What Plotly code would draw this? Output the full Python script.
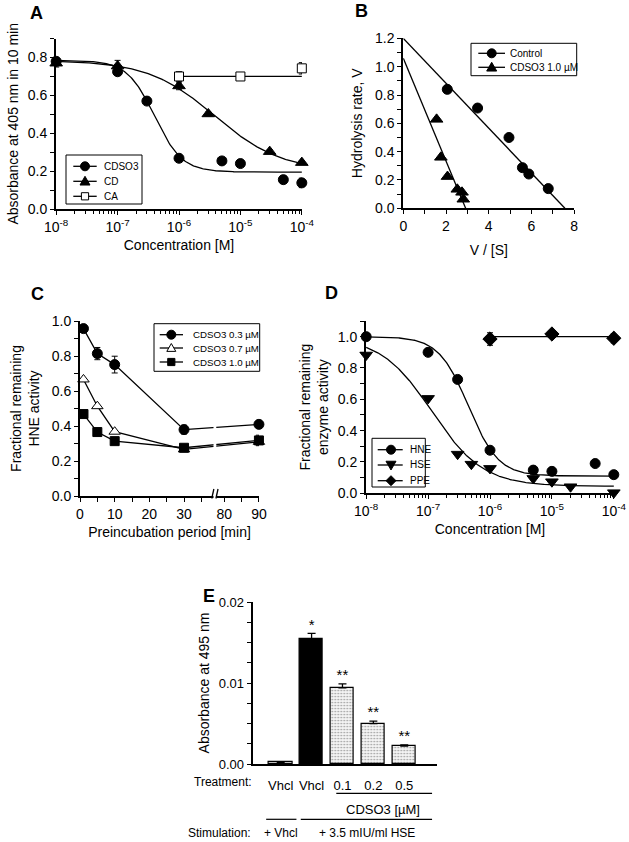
import numpy as np
import plotly.graph_objects as go

W, H = 629, 842
FONT = "Liberation Sans, Arial, Helvetica, sans-serif"

# ---------------- Panel A data ----------------
a_names = ["CDSO3", "CD", "CA"]
a_conc_cdso3 = [1e-8, 1e-7, 3e-7, 1e-6, 5e-6, 1e-5, 5e-5, 1e-4]
a_abs_cdso3 = [0.78, 0.725, 0.57, 0.268, 0.254, 0.24, 0.155, 0.138]
a_err_cdso3 = [0.02, 0.01, 0.01, 0.01, 0.0, 0.0, 0.02, 0.025]
a_conc_cd = [1e-8, 1e-7, 1e-6, 3e-6, 3e-5, 1e-4]
a_abs_cd = [0.77, 0.755, 0.65, 0.502, 0.303, 0.245]
a_err_cd = [0.02, 0.03, 0.02, 0.01, 0.01, 0.01]
a_conc_ca = [1e-6, 1e-5, 1e-4]
a_abs_ca = [0.70, 0.70, 0.743]
a_err_ca = [0.025, 0.01, 0.03]
a_fit_cdso3 = dict(top=0.785, bottom=0.195, ic50=4.0e-7, hill=1.94)
a_fit_cd = dict(top=0.785, bottom=0.20, ic50=3.8e-6, hill=0.8)
a_ca_mean = 0.70

# ---------------- Panel B data ----------------
b_names = ["Control", "CDSO3 1.0 \u00b5M"]
b_ctrl_x = [2.06, 3.48, 4.95, 5.58, 5.88, 6.79]
b_ctrl_y = [0.84, 0.708, 0.50, 0.287, 0.242, 0.139]
b_cd_x = [1.56, 1.76, 2.07, 2.53, 2.75, 2.81]
b_cd_y = [0.628, 0.36, 0.224, 0.134, 0.113, 0.064]
b_ctrl_fit = dict(vmax=1.2, xint=7.57)
b_cd_fit = dict(vmax=1.06, xint=2.92)

# ---------------- Panel C data ----------------
c_names = ["CDSO3 0.3 \u00b5M", "CDSO3 0.7 \u00b5M", "CDSO3 1.0 \u00b5M"]
c_time = [1, 5, 10, 30, 90]
c_03 = [0.958, 0.815, 0.752, 0.38, 0.41]
c_03_err = [0.0, 0.035, 0.048, 0.025, 0.01]
c_07 = [0.667, 0.514, 0.368, 0.267, 0.31]
c_10 = [0.469, 0.366, 0.314, 0.276, 0.318]
c_10_err = [0.0, 0.0, 0.0, 0.0, 0.03]
c_major_times = [0, 10, 20, 30, 80, 90]
c_minor_times = [5, 15, 25, 35, 85]
C_BREAK_FROM = 40        # times after the axis break are shifted left
C_BREAK_SHIFT = 38.4
C_GAP = (38.5, 39.3)     # axis-break gap (axis units)

# ---------------- Panel D data ----------------
d_names = ["HNE", "HSE", "PPE"]
d_conc_hne = [1e-8, 1e-7, 3e-7, 1e-6, 5e-6, 1e-5, 5e-5, 1e-4]
d_hne = [1.0, 0.90, 0.727, 0.275, 0.148, 0.14, 0.19, 0.119]
d_conc_hse = [1e-8, 1e-7, 3e-7, 5e-7, 1e-6, 5e-6, 1e-5, 2e-5, 1e-4]
d_hse = [0.883, 0.606, 0.25, 0.186, 0.159, 0.095, 0.074, 0.042, 0.004]
d_conc_ppe = [1e-6, 1e-5, 1e-4]
d_ppe = [0.985, 1.017, 0.99]
d_ppe_err = [0.04, 0.02, 0.03]
d_fit_hne = dict(top=1.0, bottom=0.11, ic50=4.5e-7, hill=1.8)
d_fit_hse = dict(top=1.0, bottom=0.045, ic50=1.15e-7, hill=1.05)
d_ppe_mean = 1.0

# ---------------- Panel E data ----------------
e_treatment = ["Vhcl", "Vhcl", "0.1", "0.2", "0.5"]
e_values = [0.0002, 0.01545, 0.0094, 0.0050, 0.0022]
e_err = [0.0, 0.0007, 0.0005, 0.0003, 0.00015]
e_signif = ["", "*", "**", "**", "**"]
e_fill = ["white", "black", "#f4f4f4", "#f4f4f4", "#f4f4f4"]
e_pattern = ["", "", ".", ".", "."]

log_ticks = [1e-8, 1e-7, 1e-6, 1e-5, 1e-4]
log_ticktext = ["10<sup>-8</sup>", "10<sup>-7</sup>", "10<sup>-6</sup>", "10<sup>-5</sup>", "10<sup>-4</sup>"]


def fx(p):
    return p / W


def fy(p):
    return 1 - p / H


def hill(x, fit):
    x = np.asarray(x, dtype=float)
    return fit["bottom"] + (fit["top"] - fit["bottom"]) / (1 + (x / fit["ic50"]) ** fit["hill"])


def c_pos(times):
    return [t if t <= C_BREAK_FROM else t - C_BREAK_SHIFT for t in times]


LINE = dict(color="black", width=1.3)
ERR = dict(type="data", color="black", thickness=1, width=3)


def mk(symbol, size, fill="black"):
    return dict(symbol=symbol, size=size, color=fill, line=dict(color="black", width=1))


fig = go.Figure()

# ================= Panel A =================
curve_x = np.logspace(-8, -4, 300)
for fit in (a_fit_cdso3, a_fit_cd):
    fig.add_trace(go.Scatter(x=curve_x, y=hill(curve_x, fit), mode="lines", line=LINE,
                             hoverinfo="skip", xaxis="x", yaxis="y"))
fig.add_trace(go.Scatter(x=[a_conc_ca[0], a_conc_ca[-1]], y=[a_ca_mean, a_ca_mean], mode="lines",
                         line=LINE, hoverinfo="skip", xaxis="x", yaxis="y"))
A_MARKERS = [("circle", 10, "black"), ("triangle-up", 11, "black"), ("square", 9, "white")]
for xs, ys, es, m, name in zip([a_conc_cdso3, a_conc_cd, a_conc_ca], [a_abs_cdso3, a_abs_cd, a_abs_ca],
                               [a_err_cdso3, a_err_cd, a_err_ca], A_MARKERS, a_names):
    fig.add_trace(go.Scatter(x=xs, y=ys, mode="markers", marker=mk(*m), error_y=dict(ERR, array=es),
                             name=name, cliponaxis=False, xaxis="x", yaxis="y"))

# ================= Panel B =================
B_MARKERS = [("circle", 10, "black"), ("triangle-up", 11, "black")]
for fit, xs, ys, m, name in zip([b_ctrl_fit, b_cd_fit], [b_ctrl_x, b_cd_x], [b_ctrl_y, b_cd_y],
                                B_MARKERS, b_names):
    fig.add_trace(go.Scatter(x=[0, fit["xint"]], y=[fit["vmax"], 0], mode="lines", line=LINE,
                             hoverinfo="skip", xaxis="x2", yaxis="y2", cliponaxis=False))
    fig.add_trace(go.Scatter(x=xs, y=ys, mode="markers", marker=mk(*m), name=name,
                             cliponaxis=False, xaxis="x2", yaxis="y2"))

# ================= Panel C =================
C_MARKERS = [("circle", 10, "black"), ("triangle-up", 10, "white"), ("square", 9, "black")]
for ys, es, m, name in zip([c_03, c_07, c_10], [c_03_err, None, c_10_err], C_MARKERS, c_names):
    fig.add_trace(go.Scatter(x=c_pos(c_time), y=ys, mode="lines+markers", marker=mk(*m), line=LINE, name=name,
                             error_y=(dict(ERR, array=es) if es else None), cliponaxis=False,
                             xaxis="x3", yaxis="y3"))

# ================= Panel D =================
for fit in (d_fit_hne, d_fit_hse):
    fig.add_trace(go.Scatter(x=curve_x, y=hill(curve_x, fit), mode="lines", line=LINE,
                             hoverinfo="skip", xaxis="x4", yaxis="y4"))
fig.add_trace(go.Scatter(x=[d_conc_ppe[0], d_conc_ppe[-1]], y=[d_ppe_mean, d_ppe_mean], mode="lines",
                         line=LINE, hoverinfo="skip", xaxis="x4", yaxis="y4"))
D_MARKERS = [("circle", 10, "black"), ("triangle-down", 11, "black"), ("diamond", 11, "black")]
for xs, ys, es, m, name in zip([d_conc_hne, d_conc_hse, d_conc_ppe], [d_hne, d_hse, d_ppe],
                               [None, None, d_ppe_err], D_MARKERS, d_names):
    fig.add_trace(go.Scatter(x=xs, y=ys, mode="markers", marker=mk(*m), name=name,
                             error_y=(dict(ERR, array=es) if es else None),
                             cliponaxis=False, xaxis="x4", yaxis="y4"))

# ================= Panel E =================
e_x = list(range(len(e_values)))
fig.add_trace(go.Bar(
    x=e_x, y=e_values, width=0.745, xaxis="x5", yaxis="y5",
    marker=dict(color=e_fill, line=dict(color="black", width=1.2),
                pattern=dict(shape=e_pattern, fgcolor="#a8a8a8", size=3, solidity=0.25, fillmode="overlay")),
    error_y=dict(type="data", symmetric=False, array=e_err, arrayminus=[0] * len(e_err),
                 color="black", thickness=1.3, width=4),
))
sig_idx = [i for i, s in enumerate(e_signif) if s]
fig.add_trace(go.Scatter(x=[e_x[i] for i in sig_idx], y=[e_values[i] + e_err[i] for i in sig_idx],
                         mode="text", text=[e_signif[i] for i in sig_idx],
                         textposition="top center", textfont=dict(family=FONT, size=15, color="black"),
                         cliponaxis=False, xaxis="x5", yaxis="y5"))
fig.update_traces(showlegend=False)


# ================= Axes =================
def axis(domain, rng, anchor, title=None, tickfont=14, standoff=6, **kw):
    tf = tickfont if isinstance(tickfont, dict) else dict(family=FONT, size=tickfont, color="black")
    d = dict(domain=domain, range=rng, anchor=anchor, showline=True, linecolor="black", linewidth=2,
             ticks="outside", ticklen=4, tickwidth=1, tickcolor="black", showgrid=False, zeroline=False,
             automargin=False, tickfont=tf, ticklabeloverflow="allow")
    if title is not None:
        d["title"] = dict(text=title, font=dict(family=FONT, size=14, color="black"), standoff=standoff)
    d.update(kw)
    return d


def MINOR(dt=None, vals=None):
    m = dict(ticks="outside", ticklen=4, tickwidth=1, tickcolor="black", showgrid=False)
    if vals is not None:
        m.update(tickmode="array", tickvals=vals)
    else:
        m.update(dtick=dt)
    return m


LOGMINOR = dict(ticks="outside", ticklen=3, tickwidth=1, tickcolor="black", dtick="D1", showgrid=False)

# pixel geometry of the subplots
A_dom = ([fx(56), fx(302)], [fy(209), fy(38.6)])
B_dom = ([fx(403.3), fx(574.3)], [fy(208.3), fy(38.3)])
C_dom = ([fx(80), fx(259)], [fy(496), fy(321)])
D_dom = ([fx(366), fx(614)], [fy(493.3), fy(321)])
E_dom = ([fx(252.7), fx(437)], [fy(764), fy(602)])

layout_axes = dict(
    xaxis=axis(A_dom[0], [-8.003, -3.997], "y", "Concentration [M]", type="log", tickmode="array",
               tickvals=log_ticks, ticktext=log_ticktext, minor=LOGMINOR),
    yaxis=axis(A_dom[1], [0, 0.9], "x", "Absorbance at 405 nm in 10 min", dtick=0.2, tickformat=".1f",
               minor=MINOR(0.1)),
    xaxis2=axis(B_dom[0], [0, 8.01], "y2", "V / [S]", standoff=12, dtick=2, minor=MINOR(1)),
    yaxis2=axis(B_dom[1], [0, 1.2005], "x2", "Hydrolysis rate, V", standoff=9, dtick=0.2, tickformat=".1f",
                minor=MINOR(0.1)),
    xaxis3=axis(C_dom[0], [0, 51.62], "y3", "Preincubation period [min]", tickmode="array",
                tickvals=c_pos(c_major_times), ticktext=[str(t) for t in c_major_times],
                minor=MINOR(vals=c_pos(c_minor_times))),
    yaxis3=axis(C_dom[1], [0, 1.0015], "x3", "Fractional remaining<br>HNE activity", standoff=9,
                dtick=0.2, tickformat=".1f", minor=MINOR(0.1)),
    xaxis4=axis(D_dom[0], [-8.003, -3.997], "y4", "Concentration [M]", type="log", tickmode="array",
                tickvals=log_ticks, ticktext=log_ticktext, minor=LOGMINOR),
    yaxis4=axis(D_dom[1], [0, 1.1], "x4", "Fractional remaining<br>enzyme activity", dtick=0.2,
                tickformat=".1f", minor=MINOR(0.1)),
    xaxis5=axis(E_dom[0], [-0.906, 5.06], "y5", None,
                tickfont=dict(family=FONT, size=13, color="black"), tickangle=0,
                tickmode="array", tickvals=e_x, ticktext=e_treatment,
                ticklen=8, tickcolor="rgba(0,0,0,0)"),
    yaxis5=axis(E_dom[1], [0, 0.02002], "x5", "Absorbance at 495 nm", tickfont=13, tickmode="array",
                tickvals=[0, 0.01, 0.02], ticktext=["0.00", "0.01", "0.02"],
                minor=MINOR(vals=[0.0025, 0.005, 0.0075, 0.0125, 0.015, 0.0175])),
)

annotations = []
shapes = []


# ================= Compact boxed legends (decoration in page pixels) =================
def marker_shape(sym, cx, cy, size, fill):
    h = size / 2.0
    style = dict(xref="paper", yref="paper", fillcolor=fill, line=dict(color="black", width=1), layer="above")
    if sym == "circle":
        return dict(type="circle", x0=fx(cx - h), x1=fx(cx + h), y0=fy(cy + h), y1=fy(cy - h), **style)
    if sym == "square":
        h *= 0.9
        return dict(type="rect", x0=fx(cx - h), x1=fx(cx + h), y0=fy(cy + h), y1=fy(cy - h), **style)
    if sym == "triangle-up":
        pts = [(cx, cy - h), (cx + h, cy + 0.75 * h), (cx - h, cy + 0.75 * h)]
    elif sym == "triangle-down":
        pts = [(cx, cy + h), (cx + h, cy - 0.75 * h), (cx - h, cy - 0.75 * h)]
    else:  # diamond
        pts = [(cx, cy - h), (cx + h, cy), (cx, cy + h), (cx - h, cy)]
    path = "M " + " L ".join(f"{fx(x):.5f},{fy(y):.5f}" for x, y in pts) + " Z"
    return dict(type="path", path=path, **style)


def boxed_legend(box, rows, names, markers, line_x, marker_x, text_x, fsize=10):
    shapes.append(dict(type="rect", xref="paper", yref="paper", x0=fx(box[0]), x1=fx(box[2]),
                       y0=fy(box[3]), y1=fy(box[1]), fillcolor="white",
                       line=dict(color="black", width=1), layer="above"))
    for y, name, (sym, size, fill) in zip(rows, names, markers):
        shapes.append(dict(type="line", xref="paper", yref="paper", x0=fx(line_x[0]), x1=fx(line_x[1]),
                           y0=fy(y), y1=fy(y), line=dict(color="black", width=1.3), layer="above"))
        shapes.append(marker_shape(sym, marker_x, y, size - 1, fill))
        annotations.append(dict(text=name, x=fx(text_x), y=fy(y), xref="paper", yref="paper",
                                xanchor="left", yanchor="middle", showarrow=False,
                                font=dict(family=FONT, size=fsize, color="black")))


boxed_legend((66, 155, 142, 204), [166.3, 181.3, 196.3], a_names, A_MARKERS, (73.3, 96.7), 85, 101.7)
boxed_legend((471, 43.3, 576.7, 75.7), [53.3, 67.3], b_names, B_MARKERS, (478.3, 505), 491.7, 508.3)
boxed_legend((154, 323.7, 259.7, 371.3), [334.7, 348, 362], c_names, C_MARKERS, (159.7, 183), 171.3, 190.7,
             fsize=9.7)
boxed_legend((372, 438.3, 425.3, 487), [449.7, 465, 480.7], d_names, D_MARKERS, (377.7, 402.7), 391, 407.7)

# ================= Panel letters / panel E labels =================
for letter, x, y in [("A", 36, 13), ("B", 361, 11), ("C", 37, 294), ("D", 331, 293), ("E", 209, 596)]:
    annotations.append(dict(text=letter, x=fx(x), y=fy(y), xref="paper", yref="paper", showarrow=False,
                            xanchor="center", yanchor="middle",
                            font=dict(family=FONT, size=18, color="black", weight="bold")))

E_TXT = dict(family=FONT, size=12, color="black")
annotations += [
    dict(text="Treatment:", x=fx(254), y=fy(782), xref="paper", yref="paper", xanchor="right",
         yanchor="middle", showarrow=False, font=E_TXT),
    dict(text="CDSO3 [\u00b5M]", x=3.3, y=fy(809), xref="x5", yref="paper", xanchor="center",
         yanchor="middle", showarrow=False, font=dict(E_TXT, size=13)),
    dict(text="Stimulation:", x=fx(253), y=fy(833), xref="paper", yref="paper", xanchor="right",
         yanchor="middle", showarrow=False, font=E_TXT),
    dict(text="+ Vhcl", x=0.0, y=fy(833), xref="x5", yref="paper", xanchor="center",
         yanchor="middle", showarrow=False, font=E_TXT),
    dict(text="+ 3.5 mIU/ml HSE", x=2.78, y=fy(833), xref="x5", yref="paper", xanchor="center",
         yanchor="middle", showarrow=False, font=E_TXT),
]

shapes += [
    # group bars in panel E
    dict(type="line", xref="x5", yref="paper", x0=1.8, x1=4.9, y0=fy(793.3), y1=fy(793.3),
         line=dict(color="black", width=1.2)),
    dict(type="line", xref="x5", yref="paper", x0=-0.47, x1=0.51, y0=fy(819.3), y1=fy(819.3),
         line=dict(color="black", width=1.2)),
    dict(type="line", xref="x5", yref="paper", x0=0.65, x1=4.9, y0=fy(819.3), y1=fy(819.3),
         line=dict(color="black", width=1.2)),
    # axis break in panel C
    dict(type="rect", xref="x3", yref="paper", x0=C_GAP[0], x1=C_GAP[1], y0=fy(500), y1=fy(425),
         fillcolor="white", line=dict(width=0), layer="above"),
    dict(type="line", xref="x3", yref="paper", x0=C_GAP[0] - 0.5, x1=C_GAP[0] + 0.1, y0=fy(498.5), y1=fy(489),
         line=dict(color="black", width=1.3), layer="above"),
    dict(type="line", xref="x3", yref="paper", x0=C_GAP[1] - 0.1, x1=C_GAP[1] + 0.5, y0=fy(498.5), y1=fy(489),
         line=dict(color="black", width=1.3), layer="above"),
]

fig.update_layout(
    width=W, height=H, margin=dict(l=0, r=0, t=0, b=0, autoexpand=False),
    paper_bgcolor="white", plot_bgcolor="white", showlegend=False,
    font=dict(family=FONT, size=14, color="black"),
    annotations=annotations, shapes=shapes, bargap=0, **layout_axes,
)

fig.write_html("out.html", config={"displayModeBar": False},
               post_script="document.body.style.margin='0';document.body.style.padding='0';")
